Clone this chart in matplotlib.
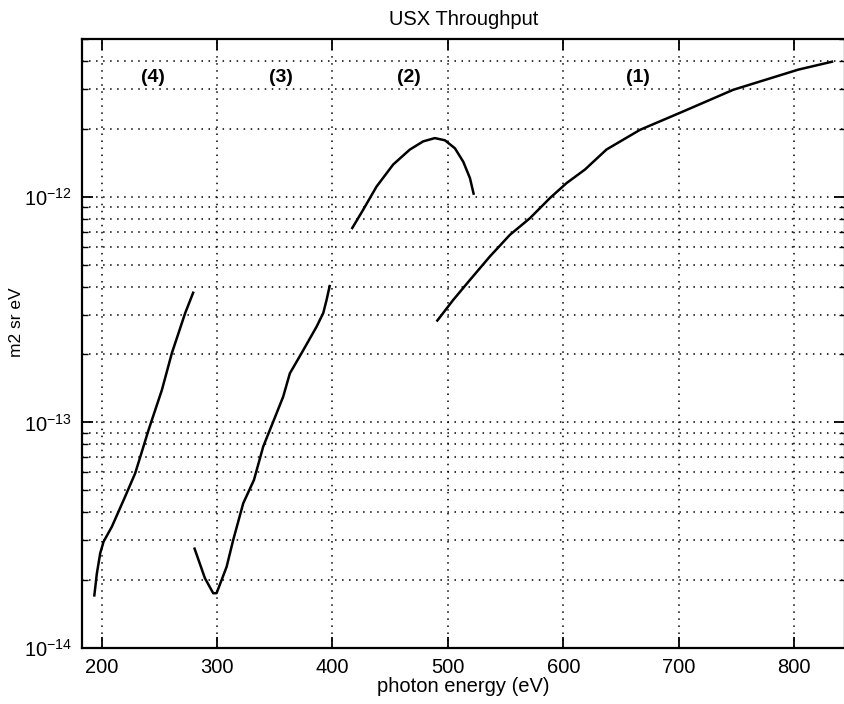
import matplotlib
matplotlib.use("Agg")
import matplotlib.pyplot as plt
from matplotlib.ticker import NullFormatter

plt.rcParams['font.family'] = ['Liberation Sans', 'DejaVu Sans']

# curve (4)
e4 = [193.6, 195.9, 198.8, 201.7, 208.9, 220.4, 229.1, 240.7, 252.2, 260.9, 272.4, 279.7]
t4 = [1.69e-14, 2.14e-14, 2.63e-14, 2.96e-14, 3.45e-14, 4.69e-14, 5.95e-14, 9.26e-14,
      1.39e-13, 2.03e-13, 3.05e-13, 3.80e-13]
# curve (3)
e3 = [280.2, 289.5, 296.7, 299.6, 308.3, 314.0, 322.7, 332.0, 340.0, 348.7, 357.3,
      363.1, 373.3, 386.3, 392.0, 394.9, 397.8]
t3 = [2.79e-14, 2.04e-14, 1.75e-14, 1.75e-14, 2.29e-14, 3.01e-14, 4.38e-14, 5.56e-14,
      7.81e-14, 1.008e-13, 1.30e-13, 1.65e-13, 2.03e-13, 2.66e-13, 3.05e-13, 3.49e-13, 4.07e-13]
# curve (2)
e2 = [416.6, 426.6, 438.2, 452.6, 467.1, 478.6, 488.7, 497.4, 506.1, 513.3, 519.1, 522.5]
t2 = [7.19e-13, 8.76e-13, 1.11e-12, 1.39e-12, 1.62e-12, 1.76e-12, 1.82e-12, 1.78e-12,
      1.64e-12, 1.43e-12, 1.21e-12, 1.02e-12]
# curve (1)
e1 = [490.2, 504.6, 519.1, 536.4, 553.7, 571.1, 588.4, 602.8, 618.7, 637.4, 666.4,
      703.9, 747.2, 803.5, 833.8]
t1 = [2.80e-13, 3.49e-13, 4.28e-13, 5.44e-13, 6.78e-13, 8.04e-13, 9.87e-13, 1.15e-12,
      1.32e-12, 1.62e-12, 1.98e-12, 2.39e-12, 2.98e-12, 3.66e-12, 3.98e-12]

labels = ['(4)', '(3)', '(2)', '(1)']
label_x = [244.4, 355.3, 466.2, 664.6]
label_y = 3.37e-12

x_ticks = [200, 300, 400, 500, 600, 700, 800]
y_ticks = [1e-14, 1e-13, 1e-12]

fig = plt.figure(figsize=(8.45, 7.04), dpi=100)
ax = fig.add_axes([0.097, 0.0795, 0.903, 0.865])

for e, t in [(e4, t4), (e3, t3), (e2, t2), (e1, t1)]:
    ax.plot(e, t, color='black', lw=1.8, solid_joinstyle='round', solid_capstyle='butt')

for lab, lx in zip(labels, label_x):
    ax.text(lx, label_y, lab, ha='center', va='center', fontsize=14, fontweight='bold')

ax.set_yscale('log')
ax.set_xlim(183, 844)
ax.set_ylim(1e-14, 5e-12)
ax.set_xticks(x_ticks)
ax.set_yticks(y_ticks)
minor = [m * d for d in y_ticks for m in range(2, 10) if m * d <= 5e-12]
ax.set_yticks(minor, minor=True)
ax.yaxis.set_minor_formatter(NullFormatter())

ax.grid(True, which='major', axis='both', color='black', lw=1.1, linestyle=(0, (1, 3.6)))
ax.grid(True, which='minor', axis='y', color='black', lw=1.1, linestyle=(0, (1, 3.6)))

ax.tick_params(which='major', direction='in', length=8, width=1.3, top=True, right=True,
               labelsize=14.5, pad=7)
ax.tick_params(which='minor', direction='in', length=4, width=1.0, right=True)
for sp in ax.spines.values():
    sp.set_linewidth(1.6)

ax.set_title('USX Throughput', fontsize=14.5, pad=10)
ax.set_xlabel('photon energy (eV)', fontsize=14.5, labelpad=0)
ax.set_ylabel('m2 sr eV', fontsize=12.5)
ax.yaxis.set_label_coords(-0.076, 0.535)

fig.savefig('out.png', dpi=100)
